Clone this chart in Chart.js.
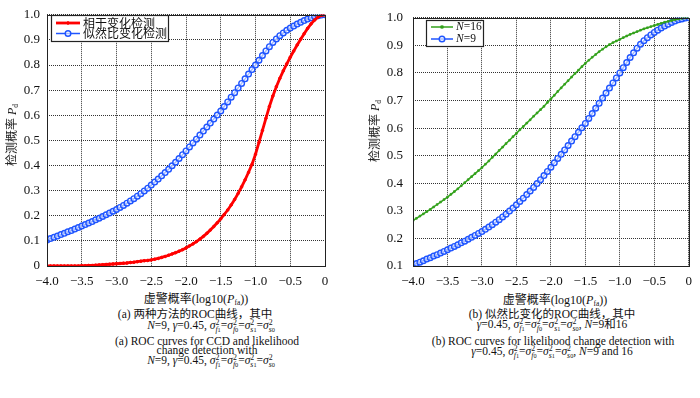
<!DOCTYPE html>
<html>
<head>
<meta charset="utf-8">
<script src="https://cdn.jsdelivr.net/npm/chart.js@4.4.1/dist/chart.umd.min.js"></script>
<style>
  body { margin: 0; background: #fff; }
  #wrap { position: relative; width: 700px; height: 398px; overflow: hidden; }
  canvas { position: absolute; top: 0; }
  .t {
    position: absolute; transform: translate(-50%, -50%); white-space: nowrap;
    font-family: "Liberation Serif", "Noto Sans CJK SC", serif; font-size: 11.5px;
    line-height: 1; color: #111;
  }
  .yt { transform: translate(-50%, -50%) rotate(-90deg); font-size: 12px; }
  .ax { font-size: 12px; }
  .t sub { font-size: 0.62em; vertical-align: -0.3em; line-height: 0; }
  .st { display: inline-block; vertical-align: -0.4em; font-size: 0.68em; line-height: 0.85; text-align: left; }
  .st > span { display: block; }
  .st small { font-size: 0.8em; }
</style>
</head>
<body>
<div id="wrap">
  <canvas id="left" width="340" height="290" style="left:0"></canvas>
  <canvas id="right" width="350" height="290" style="left:350px"></canvas>

  <div class="t yt" style="left:12px;top:135px">检测概率 <i>P</i><sub>d</sub></div>
  <div class="t yt" style="left:375px;top:131px">检测概率 <i>P</i><sub>d</sub></div>

  <div class="t ax" style="left:196px;top:299px">虚警概率(log10(<i>P</i><sub>fa</sub>))</div>
  <div class="t" style="left:195px;top:315px">(a) 两种方法的ROC曲线，其中</div>
  <div class="t" style="left:211px;top:327px"><i>N</i>=9, <i>γ</i>=0.45, <span class="sig"></span></div>
  <div class="t" style="left:207px;top:342px">(a) ROC curves for CCD and likelihood</div>
  <div class="t" style="left:207px;top:351px">change detection with</div>
  <div class="t" style="left:211px;top:362px"><i>N</i>=9, <i>γ</i>=0.45, <span class="sig"></span></div>

  <div class="t ax" style="left:555px;top:300px">虚警概率(log10(<i>P</i><sub>fa</sub>))</div>
  <div class="t" style="left:552px;top:315px">(b) 似然比变化的ROC曲线，其中</div>
  <div class="t" style="left:552px;top:326px"><i>γ</i>=0.45, <span class="sig"></span>, <i>N</i>=9和16</div>
  <div class="t" style="left:553px;top:342px">(b) ROC curves for likelihood change detection with</div>
  <div class="t" style="left:552px;top:353px"><i>γ</i>=0.45, <span class="sig"></span>, <i>N</i>=9 and 16</div>
</div>
<script>
// log10(Pfa) sample points
const xs = [-4.00,-3.95,-3.90,-3.85,-3.80,-3.75,-3.70,-3.65,-3.60,-3.55,
  -3.50,-3.45,-3.40,-3.35,-3.30,-3.25,-3.20,-3.15,-3.10,-3.05,
  -3.00,-2.95,-2.90,-2.85,-2.80,-2.75,-2.70,-2.65,-2.60,-2.55,
  -2.50,-2.45,-2.40,-2.35,-2.30,-2.25,-2.20,-2.15,-2.10,-2.05,
  -2.00,-1.95,-1.90,-1.85,-1.80,-1.75,-1.70,-1.65,-1.60,-1.55,
  -1.50,-1.45,-1.40,-1.35,-1.30,-1.25,-1.20,-1.15,-1.10,-1.05,
  -1.00,-0.95,-0.90,-0.85,-0.80,-0.75,-0.70,-0.65,-0.60,-0.55,
  -0.50,-0.45,-0.40,-0.35,-0.30,-0.25,-0.20,-0.15,-0.10,-0.05,
  0.00];

// coherent change detection (left, red)
const ccd = [0,0,0,0,0,0,0,0,0,0,
  0.001,0.001,0.002,0.002,0.003,0.004,0.005,0.006,0.007,0.008,
  0.009,0.010,0.011,0.012,0.014,0.015,0.017,0.019,0.021,0.022,
  0.024,0.027,0.030,0.034,0.038,0.043,0.048,0.053,0.059,0.065,
  0.072,0.080,0.088,0.097,0.107,0.118,0.130,0.143,0.157,0.172,
  0.188,0.205,0.223,0.243,0.265,0.289,0.315,0.343,0.373,0.405,
  0.445,0.492,0.540,0.588,0.635,0.677,0.714,0.747,0.777,0.805,
  0.831,0.856,0.880,0.903,0.925,0.946,0.964,0.979,0.991,0.998,
  1.000];

// likelihood ratio change detection, N=9 (blue, both panels)
const lr9 = [0.104,0.109,0.114,0.119,0.125,0.130,0.136,0.141,0.147,0.153,
  0.159,0.165,0.171,0.177,0.184,0.190,0.197,0.204,0.211,0.218,
  0.225,0.233,0.241,0.250,0.259,0.268,0.278,0.288,0.299,0.310,
  0.322,0.334,0.346,0.359,0.372,0.385,0.399,0.413,0.428,0.443,
  0.458,0.474,0.490,0.505,0.521,0.537,0.553,0.569,0.585,0.601,
  0.617,0.635,0.653,0.672,0.690,0.709,0.727,0.745,0.764,0.782,
  0.800,0.819,0.838,0.856,0.873,0.890,0.904,0.917,0.928,0.938,
  0.947,0.955,0.963,0.970,0.977,0.983,0.988,0.993,0.996,0.999,
  1.000];

// likelihood ratio change detection, N=16 (right, green)
const lr16 = [0.265,0.273,0.281,0.289,0.297,0.305,0.314,0.323,0.332,0.341,
  0.350,0.360,0.370,0.380,0.391,0.402,0.413,0.424,0.435,0.446,
  0.457,0.469,0.481,0.494,0.506,0.519,0.531,0.544,0.556,0.569,
  0.581,0.594,0.606,0.618,0.630,0.643,0.655,0.667,0.679,0.693,
  0.706,0.719,0.733,0.746,0.759,0.772,0.785,0.798,0.810,0.823,
  0.835,0.846,0.857,0.867,0.877,0.886,0.895,0.903,0.910,0.916,
  0.922,0.928,0.934,0.940,0.945,0.950,0.955,0.960,0.964,0.968,
  0.972,0.976,0.980,0.984,0.987,0.990,0.993,0.996,0.998,0.999,
  1.000];

const RED = '#ff0000', BLUE = '#1f55ff', GREEN = '#33a11c';
const SERIF = '"Liberation Serif", serif';

const sg = (a, b) => `<i>σ</i><span class="st"><span>2</span><span><i>${a}</i><small>${b}</small></span></span>`;
document.querySelectorAll('.sig').forEach(el => {
  el.innerHTML = `${sg('f','1')}=${sg('f','0')}=${sg('s','1')}=${sg('s','0')}`;
});

function pts(ys) {
  return xs.map((x, i) => ({ x: x, y: ys[i] }));
}

// box frame around the plot area
const frame = {
  id: 'frame',
  afterDraw(chart) {
    const a = chart.chartArea, ctx = chart.ctx;
    ctx.save();
    ctx.strokeStyle = '#222';
    ctx.lineWidth = 1;
    ctx.strokeRect(Math.round(a.left) + 0.5, Math.round(a.top) + 0.5,
      Math.round(a.right - a.left), Math.round(a.bottom - a.top));
    ctx.restore();
  }
};

// legend drawn inside the plot, like the matlab one
const boxLegend = {
  id: 'boxLegend',
  afterDraw(chart, args, o) {
    const ctx = chart.ctx;
    ctx.save();
    ctx.fillStyle = '#fff';
    ctx.fillRect(o.x, o.y, o.w, o.h);
    ctx.strokeStyle = '#222';
    ctx.lineWidth = 1.2;
    ctx.strokeRect(o.x + 0.5, o.y + 0.5, o.w, o.h);
    chart.data.datasets.forEach((ds, i) => {
      const cy = o.y + o.first + i * o.rowH;
      const x0 = o.x + 5, x1 = x0 + o.lineLen, xm = (x0 + x1) / 2;
      ctx.strokeStyle = ds.borderColor;
      ctx.lineWidth = ds.borderWidth;
      ctx.beginPath(); ctx.moveTo(x0, cy); ctx.lineTo(x1, cy); ctx.stroke();
      ctx.lineWidth = ds.pointBorderWidth;
      ctx.fillStyle = ds.pointBackgroundColor;
      ctx.beginPath();
      if (ds.pointStyle === 'rect') {
        const r = ds.pointRadius;
        ctx.rect(xm - r, cy - r, 2 * r, 2 * r);
      } else {
        ctx.arc(xm, cy, ds.pointRadius, 0, Math.PI * 2);
      }
      ctx.fill(); ctx.stroke();
      ctx.fillStyle = '#111';
      ctx.textBaseline = 'middle';
      let tx = x1 + 3;
      if (ds.label.startsWith('N=')) {
        ctx.font = 'italic 11.5px ' + SERIF;
        ctx.fillText('N', tx, cy);
        tx += ctx.measureText('N').width;
        ctx.font = '11.5px ' + SERIF;
        ctx.fillText(ds.label.slice(1), tx, cy);
      } else {
        ctx.font = '12px "Noto Sans CJK SC", sans-serif';
        ctx.fillText(ds.label, tx, cy);
      }
    });
    ctx.restore();
  }
};

function axes(yMin, yWidth, yPad) {
  const grid = { color: '#333', lineWidth: 1, drawTicks: false };
  return {
    x: {
      type: 'linear', min: -4, max: 0,
      grid: grid,
      border: { display: false, dash: [1, 1] },
      afterFit: s => { s.height = 24; },
      ticks: {
        stepSize: 0.5, padding: 8, color: '#111',
        font: { family: SERIF, size: 13 },
        callback: v => v === 0 ? '0' : '\u2212' + Math.abs(v).toFixed(1)
      }
    },
    y: {
      min: yMin, max: 1,
      grid: grid,
      border: { display: false, dash: [1, 1] },
      afterFit: s => { s.width = yWidth; },
      ticks: {
        stepSize: 0.1, padding: yPad, color: '#111',
        font: { family: SERIF, size: 13 },
        callback: v => Math.abs(v) < 1e-9 ? '0' : v.toFixed(1)
      }
    }
  };
}

const blueSet = label => ({
  label: label, data: pts(lr9),
  borderColor: BLUE, borderWidth: 1.5,
  pointStyle: 'circle', pointRadius: 2.8, pointBorderWidth: 1.4,
  pointBorderColor: BLUE, pointBackgroundColor: 'rgba(255,255,255,0.6)'
});

new Chart('left', {
  type: 'line',
  data: {
    datasets: [{
      label: '相干变化检测', data: pts(ccd),
      borderColor: RED, borderWidth: 2.8,
      pointStyle: 'circle', pointRadius: 1.3, pointBorderWidth: 1,
      pointBorderColor: RED, pointBackgroundColor: RED
    }, blueSet('似然比变化检测')]
  },
  plugins: [frame, boxLegend],
  options: {
    responsive: false, animation: false,
    layout: { padding: { left: 0, top: 10, right: 15, bottom: 0 } },
    plugins: {
      legend: { display: false }, tooltip: { enabled: false },
      boxLegend: { x: 51, y: 15, w: 117, h: 26, first: 8, rowH: 10.5, lineLen: 24 }
    },
    scales: axes(0, 47, 7)
  }
});

new Chart('right', {
  type: 'line',
  data: {
    datasets: [{
      label: 'N=16', data: pts(lr16),
      borderColor: GREEN, borderWidth: 1.5,
      pointStyle: 'rect', pointRadius: 1.2, pointBorderWidth: 0.8,
      pointBorderColor: GREEN, pointBackgroundColor: GREEN
    }, blueSet('N=9')]
  },
  plugins: [frame, boxLegend],
  options: {
    responsive: false, animation: false,
    layout: { padding: { left: 0, top: 7, right: 5, bottom: 0 } },
    plugins: {
      legend: { display: false }, tooltip: { enabled: false },
      boxLegend: { x: 76, y: 20, w: 57, h: 26, first: 7, rowH: 12, lineLen: 22 }
    },
    scales: axes(0.1, 63, 10)
  }
});
</script>
</body>
</html>
